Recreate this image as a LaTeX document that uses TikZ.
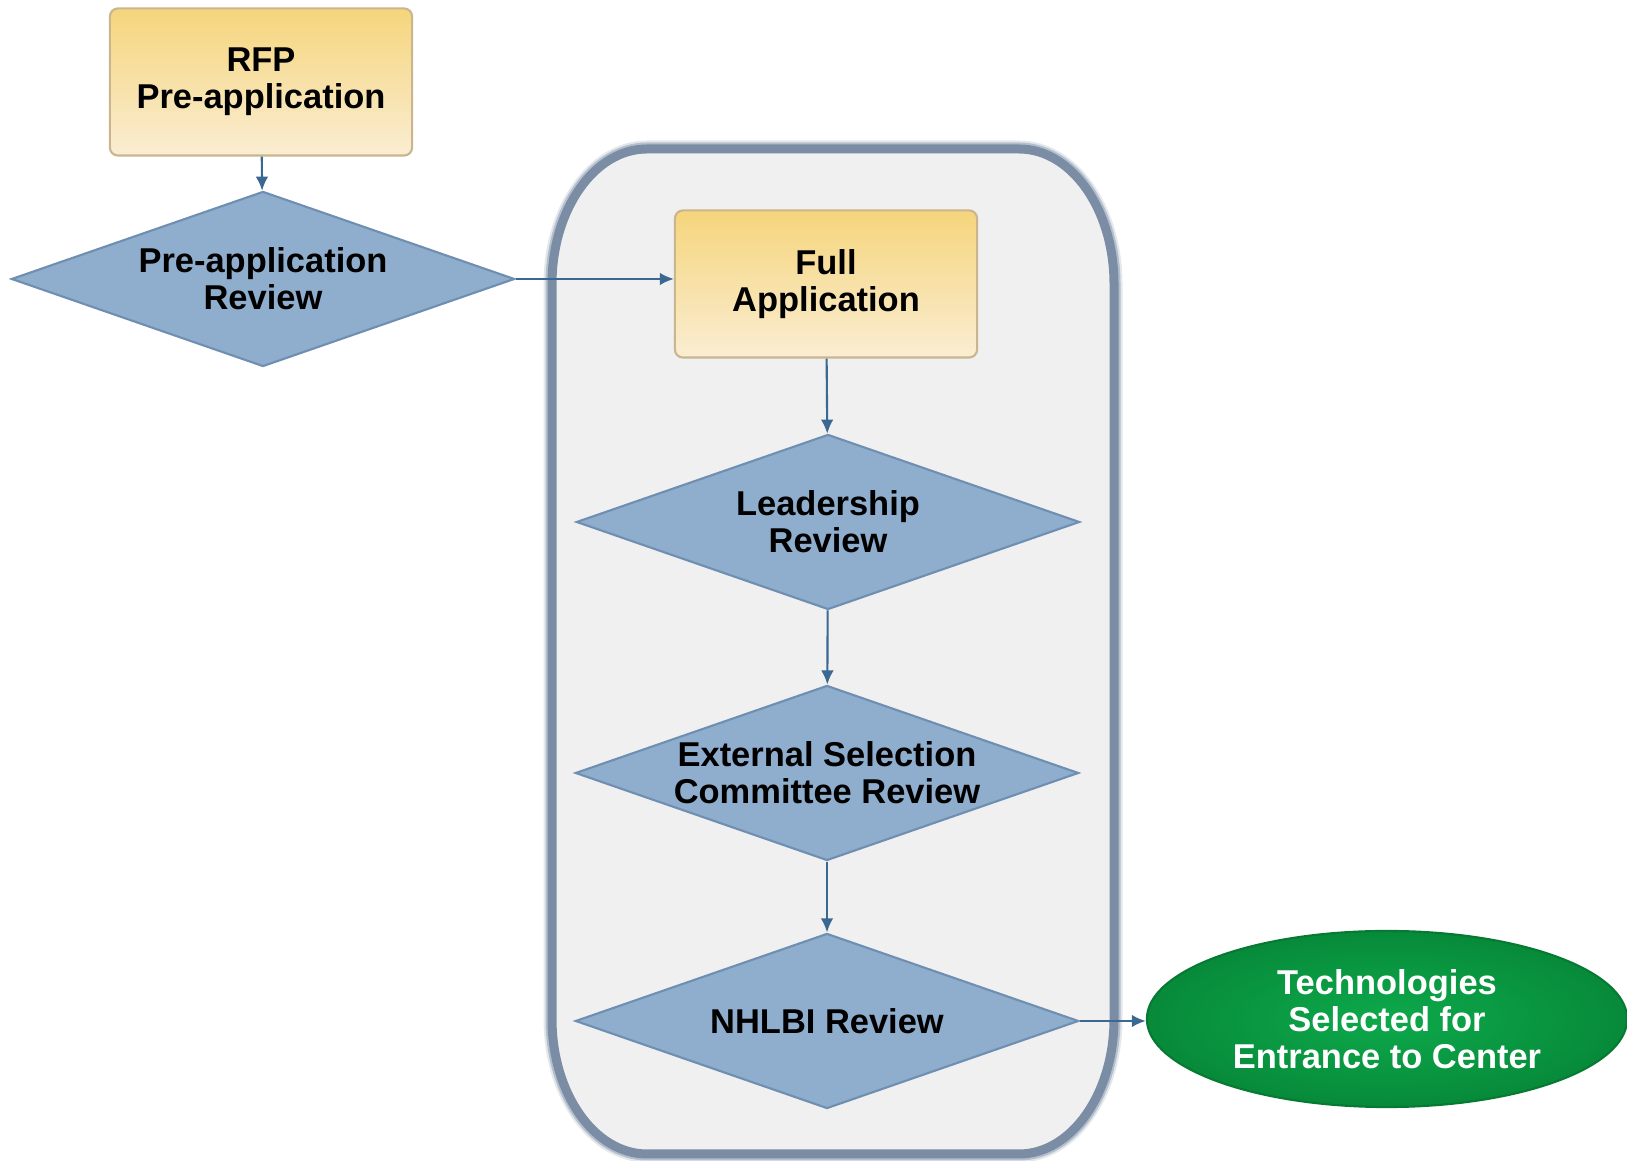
\documentclass[tikz,border=0pt]{standalone}
\usepackage{fontspec}
\setmainfont{Liberation Sans}
\usetikzlibrary{shapes.geometric,arrows.meta,positioning}
\definecolor{boxtop}{HTML}{F5D57C}
\definecolor{boxbottom}{HTML}{FAEDD2}
\definecolor{boxline}{HTML}{C9B68E}
\definecolor{diamondfill}{HTML}{8FADCC}
\definecolor{diamondline}{HTML}{6F8FB2}
\definecolor{arrowblue}{HTML}{3A6892}
\definecolor{panelfill}{HTML}{F0F0F0}
\definecolor{panelline}{HTML}{7A8DA5}
\definecolor{greenin}{HTML}{0DA94B}
\definecolor{greenout}{HTML}{078A3A}
\definecolor{greenline}{HTML}{067A32}
\begin{document}
\begin{tikzpicture}
[x=0.01cm,y=0.01cm,
  textdecorate/.style={align=center,font=\fontsize{9.8}{10.6}\selectfont\bfseries},%
  boxdecorate/.style={textdecorate,shape=rectangle,rounded corners=0.08cm,draw=boxline,line width=0.6pt,
    top color=boxtop,bottom color=boxbottom,minimum width=3.02cm,minimum height=1.47cm},%
  diamonddecorate/.style={textdecorate,shape=diamond,aspect=2.87,inner xsep=0pt,inner ysep=-3pt,
    fill=diamondfill,draw=diamondline,line width=0.6pt,minimum width=5.03cm,minimum height=1.75cm},%
  enddecorate/.style={textdecorate,shape=ellipse,inner sep=0pt,text=white,draw=greenline,line width=0.6pt,
    inner color=greenin,outer color=greenout,minimum width=4.8cm,minimum height=1.76cm},%
  linedecorate/.style={-{Latex[length=4pt,width=3.6pt]},draw=arrowblue,line width=0.6pt}]
\useasboundingbox (0,0) rectangle (1627,1161);
%% panel round the full application steps
\foreach \w/\o in {0.17cm/0.2, 0.13cm/0.45, 0.09cm/1} {
  \draw[draw=panelline,line width=\w,draw opacity=\o,fill=panelfill]
    (647,1012) -- (1019,1012) arc[start angle=90,end angle=0,x radius=95,y radius=135]
    -- (1114,142) arc[start angle=0,end angle=-90,x radius=95,y radius=135]
    -- (647,7) arc[start angle=270,end angle=180,x radius=95,y radius=135]
    -- (552,877) arc[start angle=180,end angle=90,x radius=95,y radius=135] -- cycle;
}
%% nodes or steps
\node (rfp) at (261,1079) [boxdecorate] {RFP\\Pre-application};
\node (pre) at (263,882) [diamonddecorate] {Pre-application\\Review};
\node (full) at (826,877) [boxdecorate] {Full\\Application};
\node (lead) at (828,639) [diamonddecorate] {Leadership\\Review};
\node (ext) at (827,388) [diamonddecorate] {External Selection\\Committee Review};
\node (nhlbi) at (827,140) [diamonddecorate] {NHLBI Review};
\node (tech) at (1387,142) [enddecorate] {Technologies\\Selected for\\Entrance to Center};
%% arrows
\draw[linedecorate] (rfp) -- (pre);
\draw[linedecorate] (pre.east) -- (pre.east -| full.west);
\foreach \startnode/\endnode in {full/lead, lead/ext, ext/nhlbi} {
  \draw[linedecorate] (\startnode) -- (\endnode);
}
\draw[linedecorate] (nhlbi.east) -- (nhlbi.east -| tech.west);
\end{tikzpicture}
\end{document}
